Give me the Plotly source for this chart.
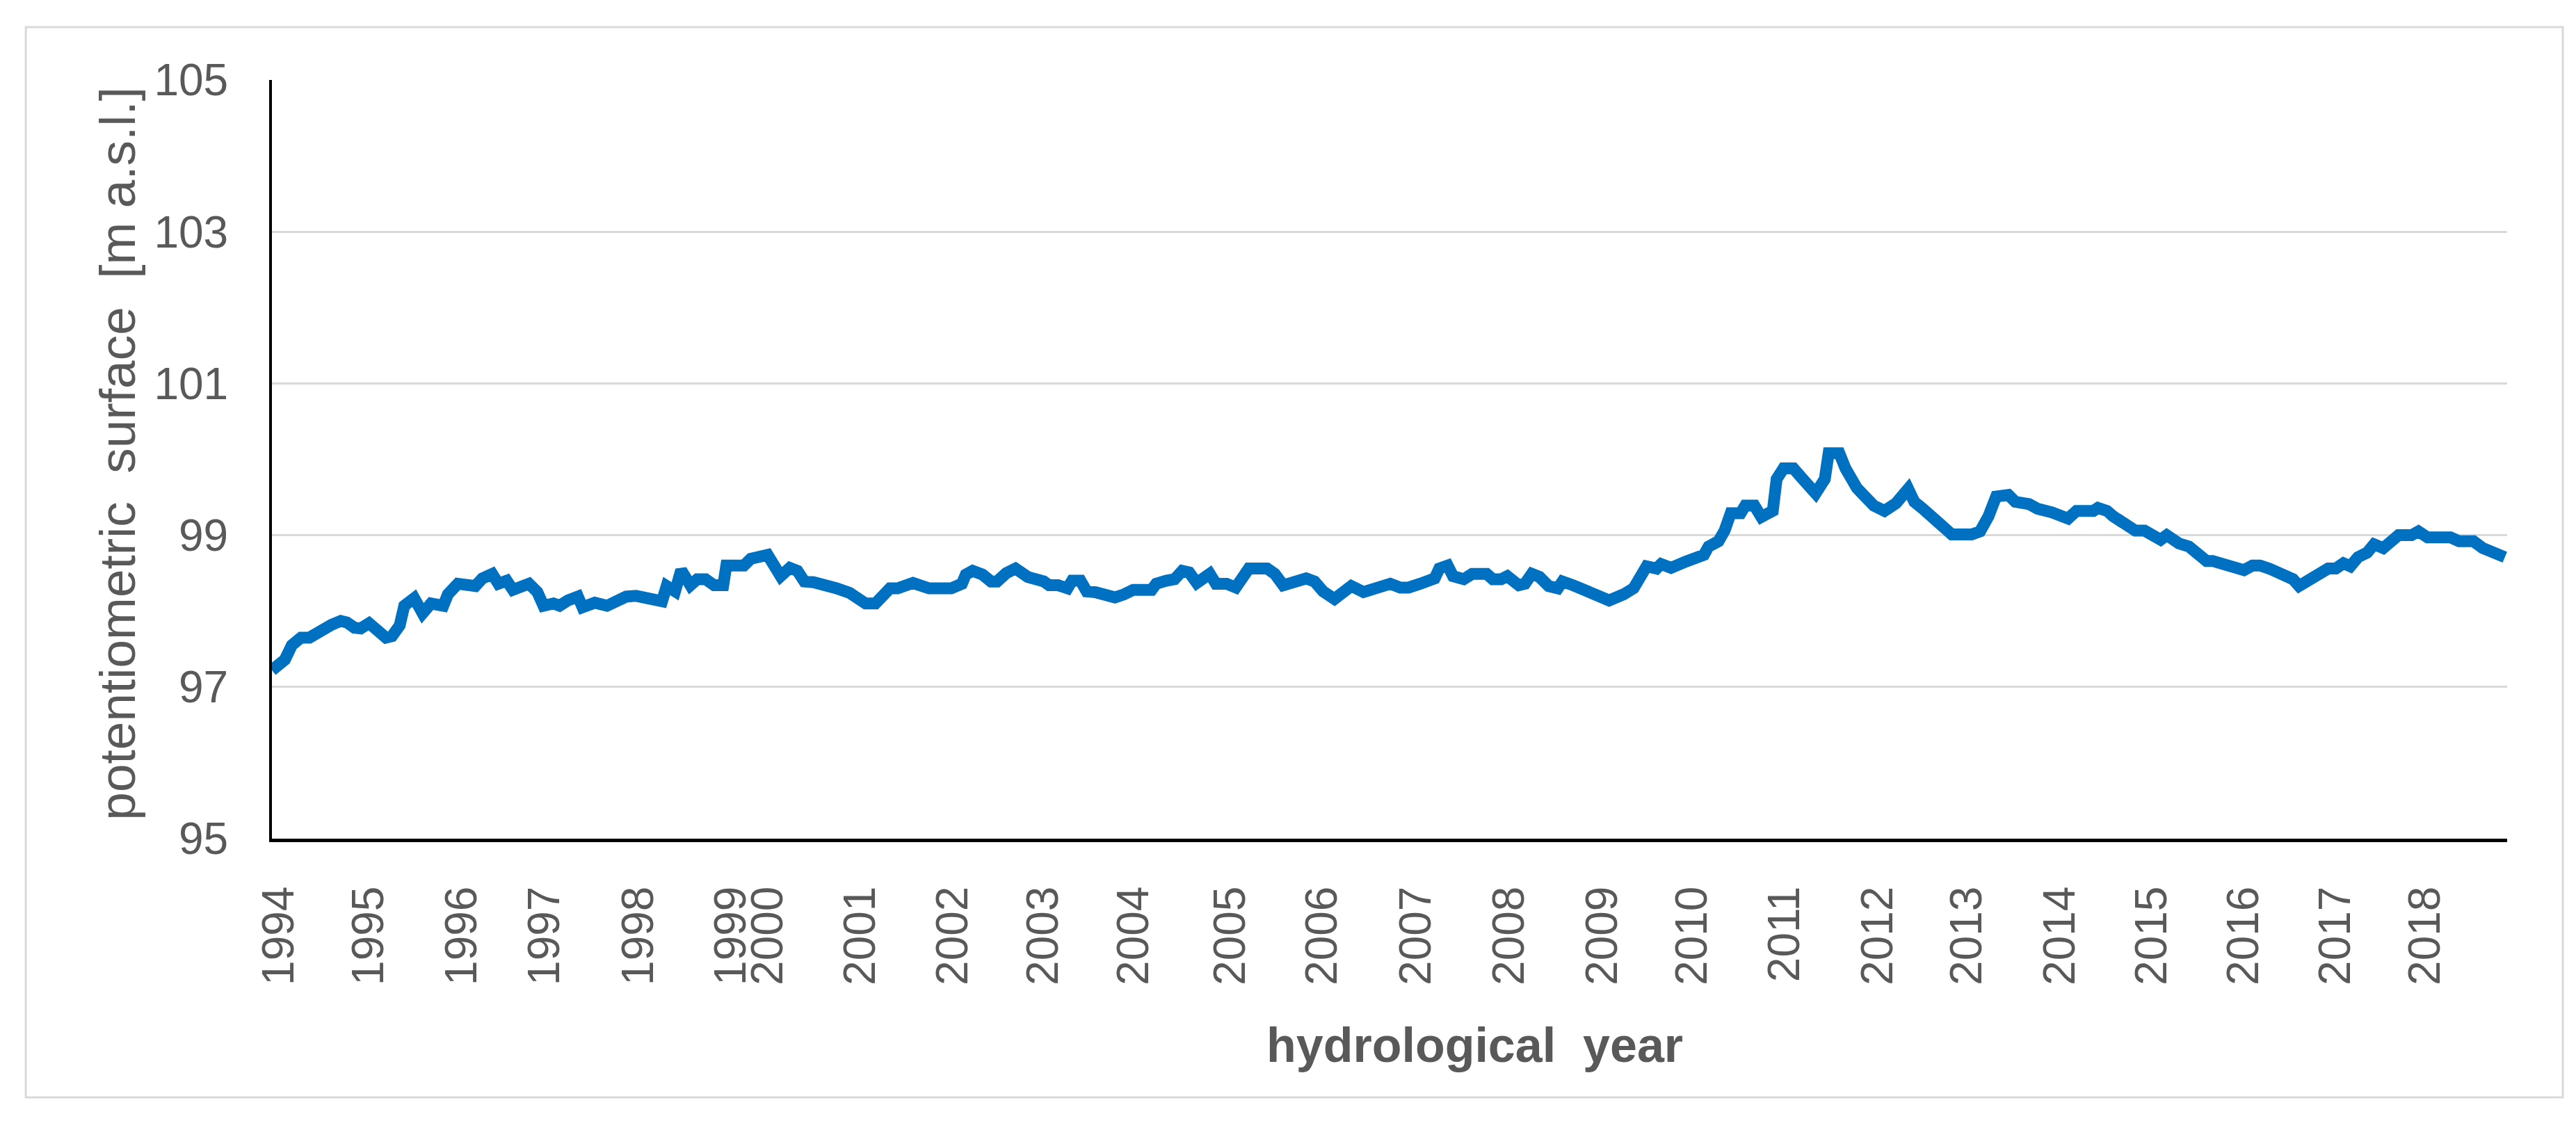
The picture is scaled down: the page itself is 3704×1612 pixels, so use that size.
import plotly.graph_objects as go

# Time position in months since the start of hydrological year 1994
months = [0.0, 1.7, 2.6, 3.8, 4.9, 5.7, 6.5, 7.8, 9.0, 9.8, 10.8, 11.6, 12.7, 13.8, 14.9, 15.7,
          16.7, 17.3, 18.6, 19.7, 20.8, 22.4, 23.0, 24.3, 25.6, 26.6, 27.5, 28.8, 29.6, 30.7,
          31.5, 32.6, 33.6, 34.7, 35.5, 36.8, 37.6, 38.7, 40.0, 40.6, 42.2, 43.8, 45.1, 46.3,
          47.6, 48.8, 49.9, 51.0, 51.6, 52.7, 53.5, 54.7, 55.6, 56.7, 57.8, 59.0, 59.4, 61.7,
          62.6, 64.4, 64.8, 66.5, 67.7, 68.7, 69.6, 70.8, 72.8, 73.8, 75.5, 76.3, 77.6, 78.9,
          80.8, 81.8, 83.8, 85.9, 88.8, 90.2, 90.7, 91.6, 92.9, 94.0, 94.8, 96.0, 97.2, 98.8,
          100.0, 100.9, 101.6, 102.8, 104.0, 104.6, 105.7, 106.5, 107.6, 108.9, 110.2, 111.4,
          112.6, 115.0, 115.6, 116.9, 118.0, 119.0, 119.9, 120.9, 122.6, 123.4, 124.8, 126.0,
          127.7, 130.1, 131.1, 132.2, 133.4, 135.2, 136.3, 137.4, 138.9, 140.0, 141.1, 142.7,
          144.6, 146.2, 147.5, 148.6, 150.1, 151.0, 152.0, 152.6, 153.7, 154.4, 155.8, 156.9,
          158.8, 159.6, 160.7, 161.5, 163.0, 163.8, 164.7, 165.7, 166.9, 168.1, 168.7, 170.1,
          171.4, 172.5, 174.8, 176.7, 178.0, 179.7, 181.0, 181.6, 182.9, 184.8, 186.3, 187.2,
          187.8, 189.1, 189.9, 190.7, 192.0, 192.6, 193.8, 194.7, 196.2, 196.7, 197.6, 198.9,
          200.2, 201.8, 203.0, 203.5, 204.9, 205.7, 207.2, 208.5, 209.4, 210.8, 212.3, 213.9,
          214.7, 215.8, 216.7, 218.3, 219.6, 222.2, 223.3, 224.4, 225.4, 227.0, 227.9, 229.7,
          230.8, 232.7, 234.8, 235.9, 238.1, 238.7, 239.9, 240.7, 242.1, 243.6, 244.8, 246.9,
          247.7, 249.3, 250.6, 251.7, 252.9, 253.7, 254.9, 255.9, 257.8, 258.9, 259.9, 261.1,
          263.3, 264.2, 265.0, 266.7, 267.7, 268.8, 269.8, 270.8, 271.7, 272.7, 273.9, 274.8,
          276.0, 277.0, 278.0, 279.7, 280.6, 281.8, 284.8, 285.9, 287.8, 289.0, 290.3, 291.9]

# Potentiometric surface [m a.s.l.]
level = [97.22, 97.36, 97.55, 97.65, 97.65, 97.70, 97.78, 97.82, 97.87, 97.85, 97.78, 97.77, 97.84, 97.74, 97.65, 97.67,
         97.81, 98.07, 98.17, 97.97, 98.10, 98.07, 98.22, 98.36, 98.33, 98.33, 98.43, 98.49, 98.36, 98.40,
         98.28, 98.33, 98.36, 98.25, 98.07, 98.10, 98.07, 98.14, 98.19, 98.05, 98.11, 98.07, 98.13, 98.19,
         98.20, 98.18, 98.13, 98.13, 98.33, 98.26, 98.54, 98.34, 98.42, 98.42, 98.34, 98.34, 98.60, 98.60,
         98.69, 98.72, 98.74, 98.46, 98.57, 98.53, 98.39, 98.38, 98.30, 98.30, 98.24, 98.20, 98.10, 98.10,
         98.30, 98.30, 98.37, 98.30, 98.30, 98.36, 98.48, 98.53, 98.48, 98.39, 98.39, 98.50, 98.56, 98.45,
         98.43, 98.39, 98.34, 98.34, 98.30, 98.40, 98.40, 98.26, 98.25, 98.20, 98.18, 98.22,
         98.28, 98.28, 98.36, 98.40, 98.42, 98.53, 98.51, 98.37, 98.49, 98.36, 98.36, 98.31,
         98.56, 98.56, 98.49, 98.34, 98.37, 98.43, 98.39, 98.26, 98.16, 98.26, 98.33, 98.25,
         98.30, 98.36, 98.31, 98.31, 98.36, 98.40, 98.43, 98.56, 98.60, 98.46, 98.42, 98.49,
         98.49, 98.42, 98.42, 98.46, 98.34, 98.36, 98.49, 98.45, 98.33, 98.30, 98.39, 98.34,
         98.28, 98.26, 98.14, 98.22, 98.30, 98.59, 98.56, 98.62, 98.57, 98.65, 98.69, 98.74,
         98.85, 98.92, 99.06, 99.29, 99.29, 99.39, 99.39, 99.24, 99.32, 99.74, 99.88, 99.88,
         99.73, 99.55, 99.74, 100.08, 100.08, 99.88, 99.62, 99.47, 99.39, 99.32, 99.42, 99.61,
         99.44, 99.35, 99.28, 99.12, 99.01, 99.01, 99.05, 99.25, 99.51, 99.53, 99.44, 99.41,
         99.35, 99.30, 99.22, 99.32, 99.32, 99.36, 99.32, 99.25, 99.15, 99.06, 99.06, 98.94,
         99.00, 98.89, 98.85, 98.77, 98.66, 98.66, 98.62, 98.62, 98.54, 98.60, 98.60, 98.56,
         98.48, 98.42, 98.33, 98.42, 98.51, 98.56, 98.56, 98.63, 98.59, 98.71, 98.77, 98.88,
         98.83, 98.94, 99.00, 99.00, 99.05, 98.97, 98.97, 98.92, 98.92, 98.83, 98.79, 98.71]

# Category-axis year labels and the month positions where they sit
tick_years = ["1994", "1995", "1996", "1997", "1998", "1999", "2000", "2001", "2002", "2003",
              "2004", "2005", "2006", "2007", "2008", "2009", "2010", "2011", "2012", "2013",
              "2014", "2015", "2016", "2017", "2018"]
tick_pos = [0.9, 12.7, 24.8, 35.7, 47.9, 60.0, 64.8, 76.9, 89.0, 100.8,
            112.7, 125.3, 137.3, 149.6, 161.8, 173.9, 185.7, 197.8, 209.9, 221.6,
            233.8, 245.8, 257.8, 269.8, 281.5]

y_ticks = [95, 97, 99, 101, 103, 105]

FONT = "Liberation Sans, Arial, Helvetica, sans-serif"
GREY = "#595959"

fig = go.Figure()
fig.add_trace(go.Scatter(
    x=months, y=level, mode="lines",
    line=dict(color="#0070C0", width=17),
    hoverinfo="skip", showlegend=False,
))

fig.update_layout(
    width=3704, height=1612,
    margin=dict(l=383, r=107, t=107, b=414),
    paper_bgcolor="white", plot_bgcolor="white",
    showlegend=False,
    xaxis=dict(
        range=[0, 292.2],
        tickmode="array", tickvals=tick_pos, ticktext=tick_years,
        tickangle=-90,
        tickfont=dict(family=FONT, size=64, color=GREY),
        ticks="outside", ticklen=38, tickcolor="rgba(0,0,0,0)",
        showgrid=False, zeroline=False,
        showline=True, linecolor="black", linewidth=5,
        fixedrange=True,
    ),
    yaxis=dict(
        range=[95, 105],
        tickmode="array", tickvals=y_ticks, ticktext=[str(v) for v in y_ticks],
        tickfont=dict(family=FONT, size=64, color=GREY),
        ticks="outside", ticklen=46, tickcolor="rgba(0,0,0,0)",
        showgrid=True, gridcolor="#D9D9D9", gridwidth=3,
        zeroline=False,
        showline=True, linecolor="black", linewidth=4,
        fixedrange=True,
    ),
    annotations=[
        dict(
            text="potentiometric\u00a0\u00a0surface\u00a0\u00a0[m a.s.l.]",
            xref="paper", yref="paper", x=-0.0691, y=0.508,
            xanchor="center", yanchor="middle", textangle=-90, showarrow=False,
            font=dict(family=FONT, size=73, color=GREY),
        ),
        dict(
            text="<b>hydrological\u00a0\u00a0year</b>",
            xref="paper", yref="paper", x=0.538, y=-0.272,
            xanchor="center", yanchor="middle", showarrow=False,
            font=dict(family=FONT, size=70, color=GREY),
        ),
    ],
    shapes=[
        dict(
            type="rect", xref="paper", yref="paper",
            x0=-0.1101, x1=1.0249, y0=-0.341, y1=1.0697,
            line=dict(color="#D9D9D9", width=3), fillcolor="rgba(0,0,0,0)",
            layer="below",
        )
    ],
)

fig.write_html("out.html")
